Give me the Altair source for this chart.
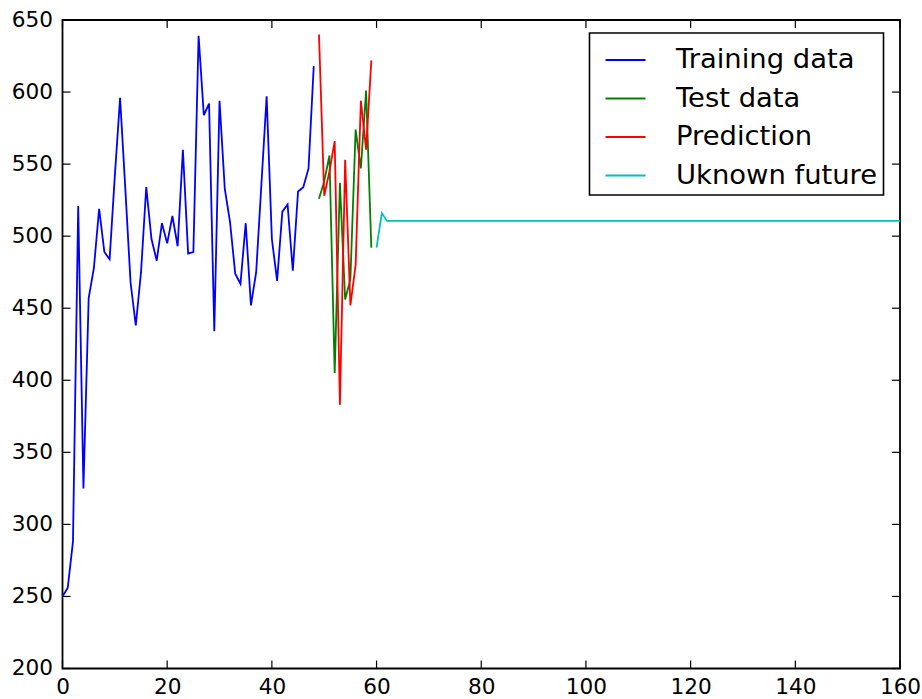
import altair as alt
import pandas as pd

# ---- data ----
train_x = list(range(0, 49))
train_y = [250, 256, 288, 521, 325, 457, 478, 519, 489, 484,
           542, 596, 533, 468, 438, 475, 534, 498, 483, 509,
           495, 514, 493, 560, 488, 489, 639, 584, 592, 434,
           594, 533, 510, 474, 467, 509, 452, 475, 536, 597,
           498, 469, 517, 522, 476, 531, 534, 547, 618]

test_x = list(range(49, 60))
test_y = [526, 538, 556, 405, 537, 456, 470, 574, 547, 601, 492]

pred_x = list(range(49, 60))
pred_y = [640, 528, 545, 566, 383, 553, 452, 480, 594, 560, 622]

future_x = [60, 61, 62, 63, 160]
future_y = [492, 516, 510.6, 510.6, 510.6]

series_names = ["Training data", "Test data", "Prediction", "Uknown future"]
series_colors = ["#0000ff", "#008000", "#ff0000", "#00bfbf"]

x_ticks = [0, 20, 40, 60, 80, 100, 120, 140, 160]
y_ticks = [200, 250, 300, 350, 400, 450, 500, 550, 600, 650]

# ---- build table ----
frames = []
for name, xs, ys in zip(series_names,
                        [train_x, test_x, pred_x, future_x],
                        [train_y, test_y, pred_y, future_y]):
    frames.append(pd.DataFrame({"x": xs, "y": ys, "series": name}))
df = pd.concat(frames, ignore_index=True)
df["k"] = df["series"].map({n: i for i, n in enumerate(series_names)})

W, H = 837.5, 648.5
FONT = "DejaVu Sans"
xscale = alt.Scale(domain=[0, 160], nice=False, zero=False)
yscale = alt.Scale(domain=[200, 650], nice=False, zero=False)

x_axis = alt.Axis(values=x_ticks, tickSize=0, domain=False, grid=False,
                  labelFontSize=21.6, labelFont=FONT, labelColor="black",
                  labelPadding=8, labelFlush=False, labelOverlap=False, title=None)
y_axis = alt.Axis(values=y_ticks, tickSize=0, domain=False, grid=False,
                  labelFontSize=21.6, labelFont=FONT, labelColor="black",
                  labelPadding=10, labelFlush=False, labelOverlap=False, title=None)

lines = alt.Chart(df).mark_line(strokeWidth=1.8, clip=True).encode(
    x=alt.X("x:Q", scale=xscale, axis=x_axis),
    y=alt.Y("y:Q", scale=yscale, axis=y_axis),
    color=alt.Color("series:N",
                    scale=alt.Scale(domain=series_names, range=series_colors),
                    sort=series_names,
                    legend=alt.Legend(title=None, orient="none",
                                      legendX=527, legendY=13,
                                      strokeColor="black", fillColor="white",
                                      padding=6, symbolType="stroke",
                                      symbolSize=1600, symbolStrokeWidth=1.8,
                                      labelFontSize=27.4, labelFont=FONT,
                                      labelColor="black", rowPadding=3.5,
                                      labelOffset=29.5, symbolOffset=9,
                                      labelLimit=500, cornerRadius=0)),
    detail="k:O",
)

xt = pd.DataFrame({"t": x_ticks})
yt = pd.DataFrame({"t": y_ticks})
TL = 8
tick_style = dict(color="black", strokeWidth=1.2)

bottom_ticks = alt.Chart(xt).mark_rule(**tick_style).encode(
    x=alt.X("t:Q", scale=xscale, axis=x_axis), y=alt.value(H), y2=alt.value(H - TL))
top_ticks = alt.Chart(xt).mark_rule(**tick_style).encode(
    x=alt.X("t:Q", scale=xscale, axis=x_axis), y=alt.value(0), y2=alt.value(TL))
left_ticks = alt.Chart(yt).mark_rule(**tick_style).encode(
    y=alt.Y("t:Q", scale=yscale, axis=y_axis), x=alt.value(0), x2=alt.value(TL))
right_ticks = alt.Chart(yt).mark_rule(**tick_style).encode(
    y=alt.Y("t:Q", scale=yscale, axis=y_axis), x=alt.value(W), x2=alt.value(W - TL))

chart = alt.layer(lines, bottom_ticks, top_ticks, left_ticks, right_ticks).properties(
    width=W, height=H,
    padding={"left": 62.5, "top": 20, "right": 22, "bottom": 30.5},
    autosize=alt.AutoSizeParams(type="none"),
    background="white",
).configure_view(stroke="black", strokeWidth=1.8).configure_legend(strokeWidth=1.6)

chart.save("out.html", embed_options={"renderer": "svg", "actions": False})
